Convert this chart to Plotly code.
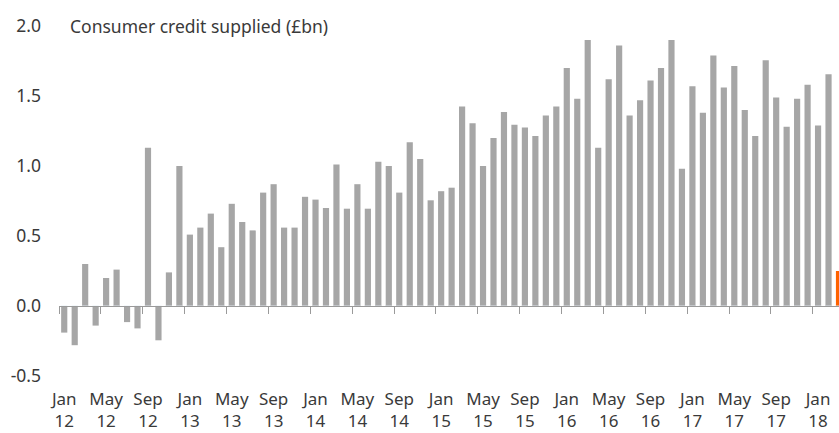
import plotly.graph_objects as go

months = ["Jan", "Feb", "Mar", "Apr", "May", "Jun", "Jul", "Aug", "Sep", "Oct", "Nov", "Dec"]
years = ["12", "13", "14", "15", "16", "17", "18"]
categories = [f"{m}<br>{y}" for y in years for m in months][:75]

credit = [
    -0.19, -0.28, 0.30, -0.14, 0.20, 0.26, -0.115, -0.16, 1.13, -0.245, 0.24, 1.00,   # 2012
    0.51, 0.56, 0.66, 0.42, 0.73, 0.60, 0.54, 0.81, 0.87, 0.56, 0.56, 0.78,           # 2013
    0.76, 0.70, 1.01, 0.695, 0.87, 0.695, 1.03, 1.00, 0.81, 1.17, 1.05, 0.755,        # 2014
    0.82, 0.845, 1.425, 1.305, 1.00, 1.20, 1.385, 1.295, 1.275, 1.215, 1.36, 1.425,   # 2015
    1.70, 1.48, 1.90, 1.13, 1.62, 1.86, 1.36, 1.47, 1.61, 1.70, 1.90, 0.98,           # 2016
    1.57, 1.38, 1.79, 1.56, 1.715, 1.40, 1.215, 1.755, 1.49, 1.28, 1.48, 1.58,        # 2017
    1.29, 1.655, 0.25,                                                                # 2018
]

bar_colors = ["#a6a6a6"] * (len(credit) - 1) + ["#ff6200"]

y_ticks = [-0.5, 0.0, 0.5, 1.0, 1.5, 2.0]
y_ticktext = ["-0.5", "0.0", "0.5", "1.0", "1.5", "2.0"]
title_text = "Consumer credit supplied (£bn)"

FONT = "Noto Sans"
TXT = "#3a3a3a"

fig = go.Figure()
fig.add_trace(go.Bar(x=categories, y=credit, marker=dict(color=bar_colors, line=dict(width=0)),
                     xaxis="x", yaxis="y", showlegend=False))
# invisible trace carrying the zero-level axis with boundary ticks
fig.add_trace(go.Bar(x=categories, y=[0] * len(categories), marker=dict(color="rgba(0,0,0,0)"),
                     xaxis="x2", yaxis="y", showlegend=False, hoverinfo="skip"))

fig.update_layout(
    width=839, height=433,
    margin=dict(l=59, r=0, t=26, b=57, autoexpand=False),
    paper_bgcolor="white", plot_bgcolor="white",
    bargap=0.41, barmode="overlay",
    font=dict(family=FONT, size=17, color=TXT),
    xaxis=dict(type="category", range=[-0.5, 74.0], tickmode="linear", tick0=0, dtick=4,
               showline=False, ticks="", showgrid=False, zeroline=False, automargin=False,
               ticklabelstandoff=11, tickfont=dict(family=FONT, size=17, color=TXT)),
    xaxis2=dict(type="category", overlaying="x", anchor="free", position=0.2,
                range=[-0.5, 74.0], tickmode="linear", tick0=0, dtick=4,
                showline=True, linecolor="#9a9a9a", linewidth=1, automargin=False,
                ticks="outside", tickson="boundaries", ticklen=7, tickcolor="#9a9a9a",
                showticklabels=False, showgrid=False, zeroline=False),
    yaxis=dict(range=[-0.5, 2.0], tickvals=y_ticks, ticktext=y_ticktext, showgrid=False,
               zeroline=False, showline=False, ticks="", ticklabelstandoff=17, automargin=False,
               tickfont=dict(family=FONT, size=17.5, color=TXT)),
    annotations=[dict(text=title_text, xref="paper", yref="y", x=9 / 780, y=2.0,
                      xanchor="left", yanchor="middle", showarrow=False,
                      font=dict(family=FONT, size=17.5, color=TXT))],
)

fig.write_html("out.html")
